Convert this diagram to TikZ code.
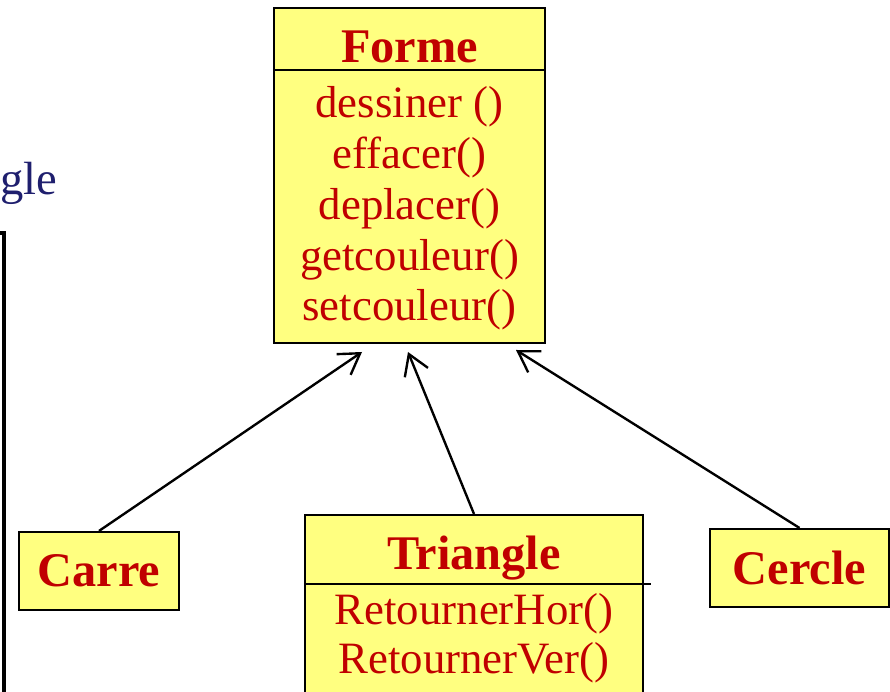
\documentclass[tikz,border=0pt]{standalone}
\usepackage{fontspec}
\setmainfont{Liberation Serif}
\usetikzlibrary{arrows.meta}
\definecolor{classyellow}{HTML}{FFFF80}
\definecolor{classred}{HTML}{C00000}
\definecolor{labelnavy}{HTML}{1F1F6E}

\tikzset{
  classbox/.style={draw=black, line width=1.2pt, fill=classyellow, inner sep=0pt},
  classname/.style={text=classred, font=\fontsize{27.5}{33}\selectfont\bfseries, anchor=base},
  method/.style={text=classred, font=\fontsize{25.5}{30}\selectfont, anchor=base},
  inherit/.style={line width=1.35pt, -{Straight Barb[length=4mm,width=5mm]}}
}

\begin{document}
\begin{tikzpicture}[x=0.02cm, y=-0.02cm]
    \useasboundingbox (0,0) rectangle (890,692);

    % piece of the neighbouring box on the left
    \node[text=labelnavy, font=\fontsize{26.5}{32}\selectfont, anchor=base west, inner sep=0pt] (leftlabel) at (0,195) {gle};
    \draw[line width=2.2pt] (-10,233) -- (4,233) -- (4,700);

    % base class
    \node[classbox, minimum width=5.42cm, minimum height=6.7cm] (forme) at (409.5,175.5) {};
    \coordinate (formesep) at (409.5,70);
    \draw[line width=1.2pt] (forme.west |- formesep) -- (forme.east |- formesep);
    \node[classname] (formename) at (409.5,63) {Forme};
    \node[method] (dessiner) at (409.5,118) {dessiner ()};
    \node[method] (effacer) at (409.5,169) {effacer()};
    \node[method] (deplacer) at (409.5,220) {deplacer()};
    \node[method] (getcouleur) at (409.5,271) {getcouleur()};
    \node[method] (setcouleur) at (409.5,321) {setcouleur()};

    % sub classes
    \node[classbox, minimum width=3.2cm, minimum height=1.56cm] (carre) at (99,571) {};
    \node[classname] (carrename) at (99,587) {Carre};

    \node[classbox, minimum width=6.76cm, minimum height=4.1cm] (triangle) at (474,617.5) {};
    \coordinate (trianglesep) at (474,584);
    \draw[line width=1.2pt] (triangle.west |- trianglesep) -- ([xshift=0.14cm]triangle.east |- trianglesep);
    \node[classname] (trianglename) at (474,570) {Triangle};
    \node[method] (retournerhor) at (474,625) {RetournerHor()};
    \node[method] (retournerver) at (474,674) {RetournerVer()};

    \node[classbox, minimum width=3.58cm, minimum height=1.56cm] (cercle) at (799.5,568) {};
    \node[classname] (cerclename) at (799.5,585) {Cercle};

    % inheritance
    \coordinate (fa) at (362,352);
    \coordinate (fb) at (408,352);
    \coordinate (fc) at (516,350);
    \draw[inherit] (carre.north) -- (fa);
    \draw[inherit] (triangle.north) -- (fb);
    \draw[inherit] (cercle.north) -- (fc);
\end{tikzpicture}
\end{document}
